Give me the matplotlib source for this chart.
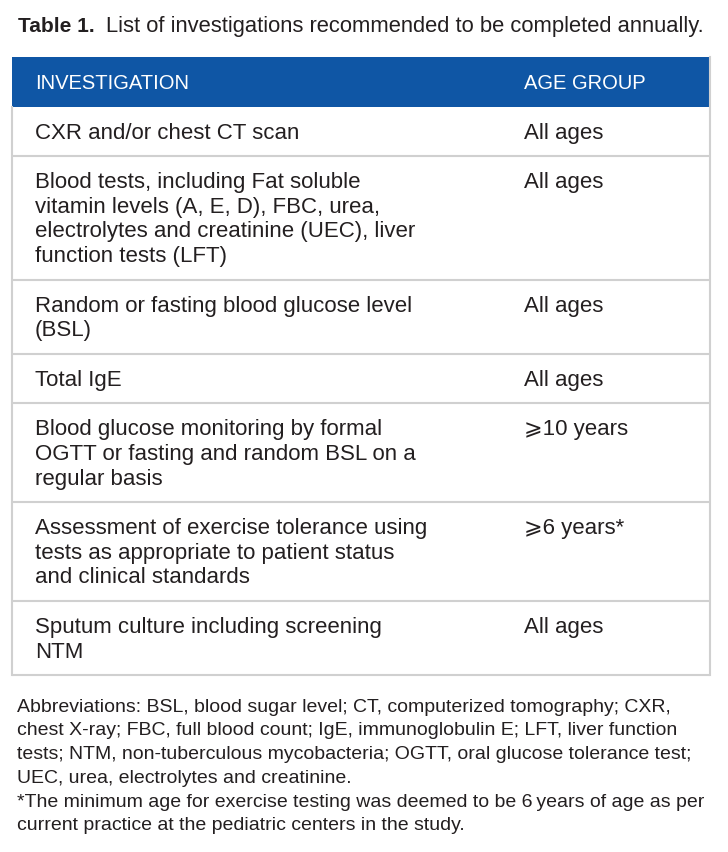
import matplotlib
matplotlib.use('Agg')
import matplotlib.pyplot as plt
from matplotlib.patches import Rectangle

title_bold = 'Table 1.'
title_rest = 'List of investigations recommended to be completed annually.'
header = ['INVESTIGATION', 'AGE GROUP']

investigations = [
    ['CXR and/or chest CT scan'],
    ['Blood tests, including Fat soluble', 'vitamin levels (A, E, D), FBC, urea,',
     'electrolytes and creatinine (UEC), liver', 'function tests (LFT)'],
    ['Random or fasting blood glucose level', '(BSL)'],
    ['Total IgE'],
    ['Blood glucose monitoring by formal', 'OGTT or fasting and random BSL on a',
     'regular basis'],
    ['Assessment of exercise tolerance using', 'tests as appropriate to patient status',
     'and clinical standards'],
    ['Sputum culture including screening', 'NTM'],
]
age_groups = ['All ages', 'All ages', 'All ages', 'All ages',
              '\u2a7e10 years', '\u2a7e6 years*', 'All ages']

footnote = [
    'Abbreviations: BSL, blood sugar level; CT, computerized tomography; CXR,',
    'chest X-ray; FBC, full blood count; IgE, immunoglobulin E; LFT, liver function',
    'tests; NTM, non-tuberculous mycobacteria; OGTT, oral glucose tolerance test;',
    'UEC, urea, electrolytes and creatinine.',
    '*The minimum age for exercise testing was deemed to be 6\u2009years of age as per',
    'current practice at the pediatric centers in the study.',
]

fonts = ['Liberation Sans', 'DejaVu Sans']
TXT = '#231f20'
BLUE = '#0f56a5'
GRID = '#d0d0d0'

fig = plt.figure(figsize=(7.28, 8.53), dpi=100)
ax = fig.add_axes([0, 0, 1, 1])
ax.set_xlim(0, 728)
ax.set_ylim(853, 0)
ax.axis('off')

# title
ax.text(18, 26, title_bold, fontsize=15, fontweight='bold', family=fonts,
        color=TXT, va='center')
ax.text(106, 26, title_rest, fontsize=15.8, family=fonts, color=TXT, va='center')

left, right = 12, 710
col2 = 524
top = 58
head_h = 50
line_h = 24.8
pad = 24.5

ax.add_patch(Rectangle((left, top), right - left, head_h, color=BLUE, lw=0))
ax.text(35, top + head_h / 2, header[0], fontsize=14.5, family=fonts, color='white', va='center')
ax.text(col2, top + head_h / 2, header[1], fontsize=14.5, family=fonts, color='white', va='center')

y = top + head_h
for lines, age in zip(investigations, age_groups):
    for k, ln in enumerate(lines):
        ax.text(35, y + 25 + k * line_h, ln, fontsize=16, family=fonts, color=TXT, va='center')
    ax.text(col2, y + 25, age, fontsize=16, family=fonts, color=TXT, va='center')
    y += len(lines) * line_h + pad
    ax.plot([left, right], [y, y], color=GRID, lw=1.5, solid_capstyle='butt')
ax.plot([left, left], [top + head_h, y], color=GRID, lw=1.5)
ax.plot([right, right], [top, y], color=GRID, lw=1.5)

for i, line in enumerate(footnote):
    ax.text(17, 707 + i * 23.8, line, fontsize=14, family=fonts, color=TXT, va='center')

fig.savefig('out.png', dpi=100)
